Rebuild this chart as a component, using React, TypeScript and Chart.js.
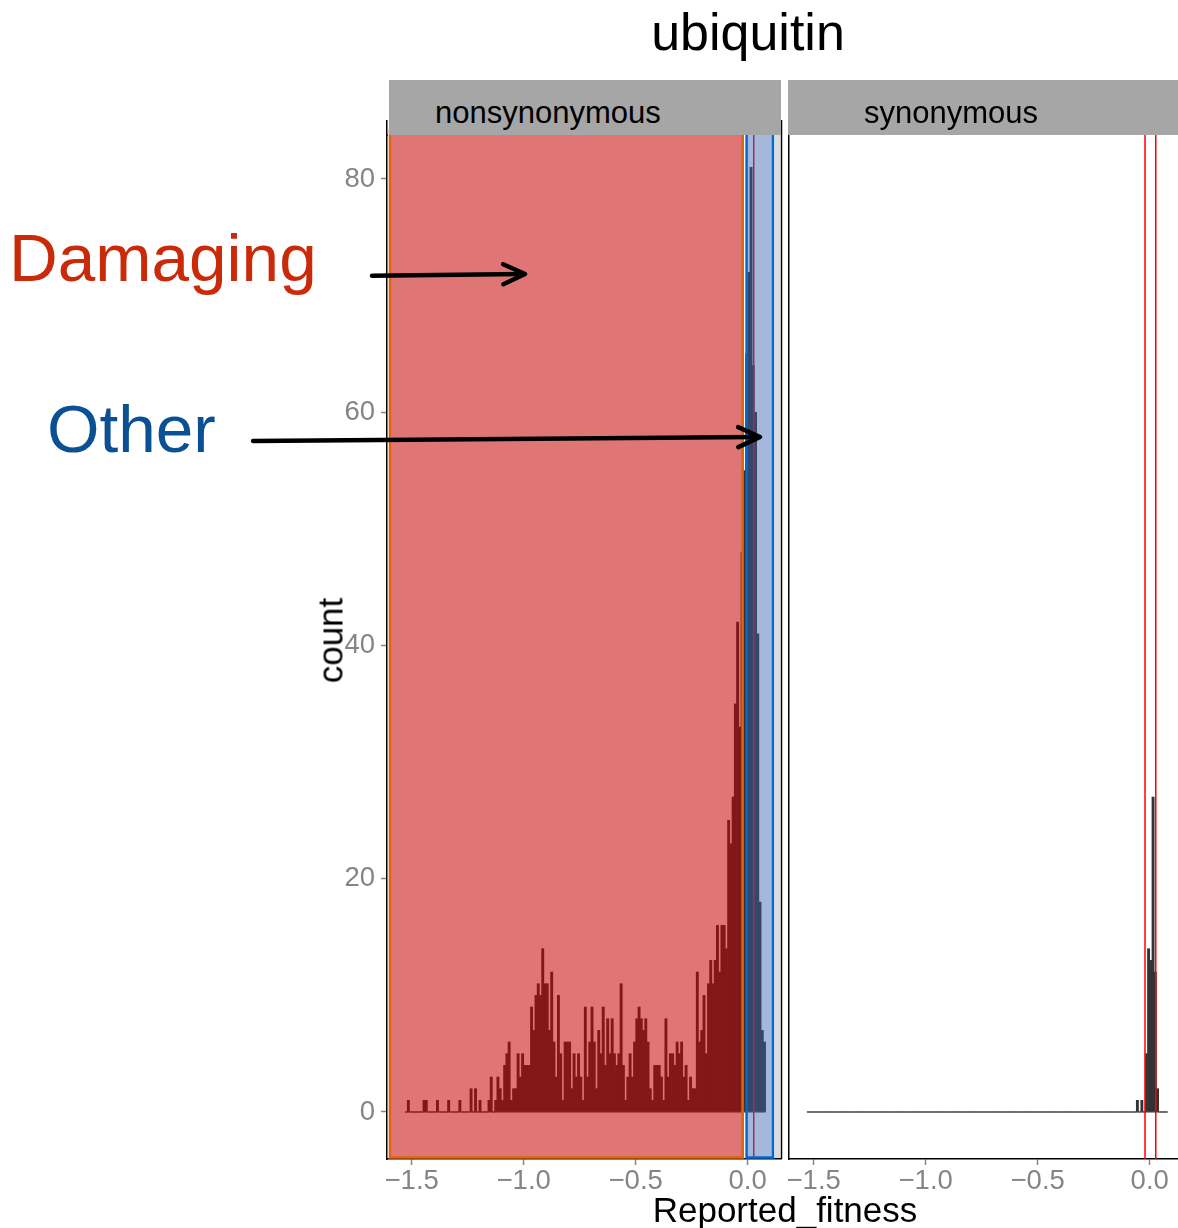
import React, { useEffect, useRef } from 'react';
import { Chart, registerables } from 'chart.js';

Chart.register(...registerables);

// ---- data ----
const binStart = -1.53;
const binWidth = 0.01;
// histogram counts of the nonsynonymous panel, one per bin (161 bins from -1.53)
const nonsynonymousCounts = [
  0, 1, 0, 0, 0, 0, 0, 0, 1, 1,
  0, 0, 0, 0, 1, 0, 0, 0, 0, 1,
  0, 0, 0, 0, 1, 0, 0, 0, 0, 2,
  0, 2, 0, 1, 0, 0, 0, 1, 3, 0,
  1, 3, 2, 1, 4, 5, 6, 1, 2, 2,
  5, 3, 5, 4, 4, 4, 9, 7, 10, 11,
  10, 14, 11, 11, 7, 12, 6, 3, 10, 5,
  1, 6, 6, 6, 2, 5, 3, 5, 3, 1,
  9, 3, 6, 9, 6, 2, 7, 5, 9, 4,
  8, 5, 8, 5, 4, 5, 11, 4, 1, 3,
  5, 3, 6, 8, 9, 8, 7, 8, 6, 2,
  1, 4, 4, 4, 3, 1, 8, 3, 5, 5,
  4, 6, 5, 6, 3, 4, 1, 3, 2, 2,
  12, 6, 7, 10, 5, 11, 13, 11, 13, 16,
  12, 16, 16, 14, 25, 23, 27, 35, 42, 33,
  48, 55, 65, 72, 81, 64, 60, 41, 18, 7, 6,
];
// synonymous panel: non-empty bins (index into the same bins) and their counts
const synonymousBinIndex = [147, 149, 151, 152, 153, 154, 155, 156];
const synonymousBinCounts = [1, 1, 5, 14, 13, 27, 12, 2];

const xTickValues = [-1.5, -1.0, -0.5, 0.0];
const yTickValues = [0, 20, 40, 60, 80];
const thresholdLines = [-0.021, 0.027];
const damagingRange = [-1.597, -0.023];
const otherRange = [-0.005, 0.113];
// annotation arrows in data coordinates of the nonsynonymous panel
const damagingArrow = { from: [-1.677, 71.7], to: [-0.994, 71.85] };
const otherArrow = { from: [-2.208, 57.53], to: [0.055, 57.88] };

const leftXRange = [-1.6103, 0.1487];
const rightXRange = [-1.6103, 0.1263];
const yRange = [-4.03, 83.77];

const FONT = "'Liberation Sans', Arial, Helvetica, sans-serif";
const TICK_GREY = '#858585';

const nBins = nonsynonymousCounts.length;
const binCenters = nonsynonymousCounts.map((_, i) => binStart + (i + 0.5) * binWidth);
const synonymousCounts = binCenters.map((_, i) => {
  const j = synonymousBinIndex.indexOf(i);
  return j >= 0 ? synonymousBinCounts[j] : 0;
});
const baselinePoints = [
  { x: binStart, y: 0 },
  { x: binStart + nBins * binWidth, y: 0 },
];

const fmtTick = (v: number) => (v < 0 ? '\u2212' : '') + Math.abs(v).toFixed(1);

function xScale(range: number[]) {
  return {
    type: 'linear' as const,
    min: range[0],
    max: range[1],
    offset: false,
    afterBuildTicks: (s: any) => {
      s.ticks = xTickValues.map((v) => ({ value: v }));
    },
    afterFit: (s: any) => {
      s.height = 50;
    },
    ticks: {
      color: TICK_GREY,
      font: { family: FONT, size: 27.5 },
      padding: 0,
      maxRotation: 0,
      autoSkip: false,
      callback: (v: any) => fmtTick(Number(v)),
    },
    grid: {
      offset: false,
      drawOnChartArea: false,
      drawTicks: true,
      tickLength: 6,
      tickColor: TICK_GREY,
      tickWidth: 1.5,
    },
    border: { display: true, color: '#000000', width: 1.5 },
  };
}

function drawArrow(ctx: CanvasRenderingContext2D, x1: number, y1: number, x2: number, y2: number) {
  const ang = Math.atan2(y2 - y1, x2 - x1);
  const len = 24;
  const spread = 0.43;
  ctx.beginPath();
  ctx.moveTo(x1, y1);
  ctx.lineTo(x2 - 2 * Math.cos(ang), y2 - 2 * Math.sin(ang));
  ctx.stroke();
  ctx.beginPath();
  ctx.moveTo(x2 - len * Math.cos(ang - spread), y2 - len * Math.sin(ang - spread));
  ctx.lineTo(x2, y2);
  ctx.lineTo(x2 - len * Math.cos(ang + spread), y2 - len * Math.sin(ang + spread));
  ctx.stroke();
}

const leftOverlay = {
  id: 'leftOverlay',
  afterDatasetsDraw(chart: any) {
    const { ctx, chartArea: a, scales } = chart;
    const x = scales.x;
    ctx.save();
    // threshold lines
    ctx.strokeStyle = '#ff0000';
    ctx.lineWidth = 1.5;
    thresholdLines.forEach((v) => {
      const px = x.getPixelForValue(v);
      ctx.beginPath();
      ctx.moveTo(px, a.top);
      ctx.lineTo(px, a.bottom);
      ctx.stroke();
    });
    // damaging region
    const r1 = x.getPixelForValue(damagingRange[0]);
    const r2 = x.getPixelForValue(damagingRange[1]);
    const top = a.top;
    const bot = a.bottom - 1.5;
    ctx.fillStyle = 'rgba(197,0,0,0.54)';
    ctx.fillRect(r1, top, r2 - r1, bot - top);
    ctx.strokeStyle = '#e2640e';
    ctx.lineWidth = 2.5;
    ctx.strokeRect(r1, top - 5, r2 - r1, bot - top + 5);
    // other region
    const b1 = x.getPixelForValue(otherRange[0]);
    const b2 = x.getPixelForValue(otherRange[1]);
    ctx.fillStyle = 'rgba(53,97,177,0.45)';
    ctx.fillRect(b1, top, b2 - b1, bot - top);
    ctx.strokeStyle = '#0a66c8';
    ctx.lineWidth = 2.5;
    ctx.strokeRect(b1, top - 5, b2 - b1, bot - top + 5);
    // light band at right
    ctx.fillStyle = '#dcdcdc';
    ctx.fillRect(b2 + 2, a.top - 15, a.right - b2 - 3, a.bottom - a.top + 14);
    ctx.restore();
  },
  afterDraw(chart: any) {
    const { ctx, chartArea: a, scales } = chart;
    const x = scales.x;
    const y = scales.y;
    ctx.save();
    ctx.strokeStyle = '#000000';
    ctx.lineWidth = 1.5;
    ctx.beginPath();
    ctx.moveTo(a.right + 0.5, a.top - 15);
    ctx.lineTo(a.right + 0.5, a.bottom);
    ctx.moveTo(a.left - 0.25, a.top - 15);
    ctx.lineTo(a.left - 0.25, a.top + 1);
    ctx.stroke();
    ctx.lineWidth = 4.5;
    ctx.lineCap = 'round';
    ctx.lineJoin = 'round';
    [damagingArrow, otherArrow].forEach((ar) => {
      drawArrow(
        ctx,
        x.getPixelForValue(ar.from[0]),
        y.getPixelForValue(ar.from[1]),
        x.getPixelForValue(ar.to[0]),
        y.getPixelForValue(ar.to[1])
      );
    });
    ctx.restore();
  },
};

const rightOverlay = {
  id: 'rightOverlay',
  afterDatasetsDraw(chart: any) {
    const { ctx, chartArea: a, scales } = chart;
    const x = scales.x;
    ctx.save();
    ctx.strokeStyle = '#ff0000';
    ctx.lineWidth = 1.5;
    thresholdLines.forEach((v) => {
      const px = x.getPixelForValue(v);
      ctx.beginPath();
      ctx.moveTo(px, a.top);
      ctx.lineTo(px, a.bottom);
      ctx.stroke();
    });
    ctx.restore();
  },
};

function makeConfig(counts: number[], xr: number[], isLeft: boolean, plugin: any): any {
  return {
    type: 'bar',
    data: {
      datasets: [
        {
          type: 'bar',
          data: binCenters.map((c, i) => ({ x: c, y: counts[i] })),
          backgroundColor: '#333333',
          borderWidth: 0,
          barPercentage: 1,
          categoryPercentage: 1,
        },
        {
          type: 'line',
          data: baselinePoints,
          borderColor: '#333333',
          borderWidth: 1,
          pointRadius: 0,
          fill: false,
        },
      ],
    },
    options: {
      animation: false,
      responsive: false,
      devicePixelRatio: 1,
      layout: isLeft
        ? { padding: { left: 327, right: 4, top: 135, bottom: 19 } }
        : { padding: { left: 4, right: 0, top: 135, bottom: 19 } },
      plugins: { legend: { display: false }, tooltip: { enabled: false }, title: { display: false } },
      scales: {
        x: xScale(xr),
        y: {
          type: 'linear',
          min: yRange[0],
          max: yRange[1],
          afterBuildTicks: (s: any) => {
            s.ticks = yTickValues.map((v) => ({ value: v }));
          },
          afterFit: (s: any) => {
            s.width = isLeft ? 60 : 0;
          },
          ticks: {
            display: isLeft,
            color: TICK_GREY,
            font: { family: FONT, size: 27.5 },
            padding: 6,
            callback: (v: any) => String(v),
          },
          grid: {
            offset: false,
            drawOnChartArea: false,
            drawTicks: isLeft,
            tickLength: 6,
            tickColor: TICK_GREY,
            tickWidth: 1.5,
          },
          border: { display: true, color: '#000000', width: 1.5 },
        },
      },
    },
    plugins: [plugin],
  };
}

const abs = (s: React.CSSProperties): React.CSSProperties => ({ position: 'absolute', whiteSpace: 'nowrap', fontFamily: FONT, ...s });

export default function App() {
  const leftRef = useRef<HTMLCanvasElement>(null);
  const rightRef = useRef<HTMLCanvasElement>(null);

  useEffect(() => {
    const left = new Chart(leftRef.current!, makeConfig(nonsynonymousCounts, leftXRange, true, leftOverlay));
    const right = new Chart(rightRef.current!, makeConfig(synonymousCounts, rightXRange, false, rightOverlay));
    return () => {
      left.destroy();
      right.destroy();
    };
  }, []);

  return (
    <div style={{ position: 'absolute', left: 0, top: 0, width: 1178, height: 1228, overflow: 'hidden', background: '#ffffff' }}>
      <canvas ref={leftRef} width={785} height={1228} style={{ position: 'absolute', left: 0, top: 0, display: 'block' }} />
      <canvas ref={rightRef} width={393} height={1228} style={{ position: 'absolute', left: 785, top: 0, display: 'block' }} />

      <div style={abs({ left: 448, top: 6, width: 600, textAlign: 'center', fontSize: 52, lineHeight: '52px', color: '#000' })}>ubiquitin</div>

      <div style={abs({ left: 389, top: 80, width: 392, height: 55, background: '#a6a6a6' })}>
        <div style={abs({ left: 46, top: 17, fontSize: 31, lineHeight: '31px', color: '#000' })}>nonsynonymous</div>
      </div>
      <div style={abs({ left: 788, top: 80, width: 390, height: 55, background: '#a6a6a6' })}>
        <div style={abs({ left: 76, top: 17, fontSize: 31, lineHeight: '31px', color: '#000' })}>synonymous</div>
      </div>

      <div style={abs({ left: 585, top: 1192, width: 400, textAlign: 'center', fontSize: 35, lineHeight: '35px', color: '#000' })}>Reported_fitness</div>
      <div style={abs({ left: 280, top: 622.5, width: 100, height: 35, textAlign: 'center', fontSize: 35, lineHeight: '35px', color: '#000', transform: 'rotate(-90deg)' })}>count</div>

      <div style={abs({ left: 9, top: 224, fontSize: 67.5, lineHeight: '67.5px', color: '#c92a0a' })}>Damaging</div>
      <div style={abs({ left: 47, top: 395, fontSize: 67.5, lineHeight: '67.5px', color: '#0b4f95' })}>Other</div>
    </div>
  );
}
